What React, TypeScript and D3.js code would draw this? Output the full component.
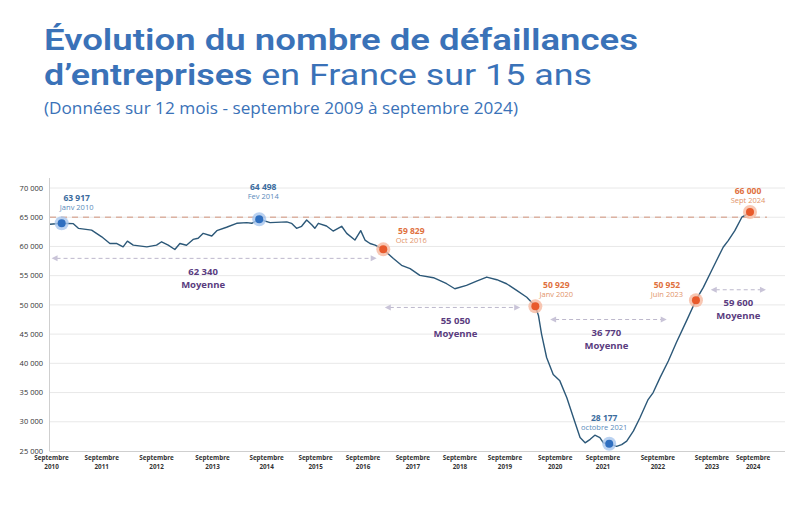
import React from "react";
import * as d3 from "d3";

// ---- data (months since September 2009, number of business failures over 12 months)
const months = [0, 3, 6, 7.3, 10.7, 13.3, 15.4, 17.2, 18.8, 19.9, 21.4, 24.9, 27.4, 28.7, 30.4, 32.1, 33.4, 35.1, 36.8, 38.1, 39.4, 41.6, 42.9, 45.4, 48, 50.6, 51.9, 53.8, 56.6, 60.9, 62.1, 63.4, 64.7, 66, 67.3, 68.1, 69, 71.1, 72.8, 75, 76.3, 78.4, 79.9, 81, 82.3, 83.6, 85.7, 88.3, 90.4, 92.6, 95.1, 98.6, 102, 104.1, 107.1, 109.7, 112.3, 114.9, 117.4, 120, 122.6, 124.8, 125.6, 126.4, 127.7, 129.4, 131.1, 132.9, 134.6, 136.3, 137.6, 138.9, 140.1, 141.4, 142.3, 143.8, 145.7, 147, 148.3, 150, 151.7, 153.8, 155.1, 156.9, 159, 161.1, 163.7, 166.1, 168, 170.1, 171.4, 173.1, 174.4, 176.1, 177.9, 178.7, 180];
const failures = [63800, 63960, 63900, 63100, 62800, 61650, 60500, 60500, 59930, 60900, 60220, 59930, 60220, 60800, 60220, 59480, 60500, 60200, 61200, 61400, 62240, 61780, 62700, 63280, 63960, 64080, 63960, 64650, 64080, 64200, 63960, 63100, 63450, 64530, 63700, 63100, 63960, 63500, 62640, 63450, 62240, 61090, 62700, 61090, 60500, 60220, 59500, 57930, 56770, 56200, 55050, 54650, 53620, 52760, 53330, 54070, 54760, 54310, 53620, 52470, 51310, 49750, 48200, 45000, 41000, 38100, 37000, 34100, 30700, 27300, 26400, 27000, 27700, 27300, 26400, 26250, 25800, 26100, 26700, 28400, 30700, 33800, 35000, 37600, 40400, 43600, 47300, 50800, 53000, 55850, 57600, 59870, 61000, 62700, 65000, 65300, 65900];

const yTicks = [25000, 30000, 35000, 40000, 45000, 50000, 55000, 60000, 65000, 70000];
const xTickMonths = [0.4, 13.3, 27.4, 41.8, 55.7, 68.3, 80.5, 93.3, 105.4, 117, 129.9, 142.2, 156.3, 170.2, 180.8];
const xTickYears = ["2010", "2011", "2012", "2013", "2014", "2015", "2016", "2017", "2018", "2019", "2020", "2021", "2022", "2023", "2024"];

const refValue = 65000;

const markerMonths = [3, 53.8, 85.7, 124.8, 143.8, 166.1, 180];
const markerValues = [63960, 64650, 59500, 49750, 26250, 50800, 65900];
const markerKinds = ["blue", "blue", "orange", "orange", "blue", "orange", "orange"];
const calloutValues = ["63 917", "64 498", "59 829", "50 929", "28 177", "50 952", "66 000"];
const calloutDates = ["Janv 2010", "Fev 2014", "Oct 2016", "Janv 2020", "octobre 2021", "Juin 2023", "Sept 2024"];

const avgLabels = ["62 340", "55 050", "36 770", "59 600"];
const avgStart = [0.4, 86.1, 128.6, 169.9];
const avgEnd = [84, 120.9, 158.6, 184.1];
const avgLevel = [57960, 49560, 47500, 52590];

// ---- layout / style
const calloutOffsets = [[15, -25], [4, -32], [28, -18], [21, -21], [-5, -26], [-29, -15], [-2, -21]];
const avgTextDx = [-11, 3, -2, 0];
const colors = {
  blue: { fill: "#2f6fc0", halo: "#a9c7ee", value: "#3b6c9e", date: "#5b8bbb" },
  orange: { fill: "#e85a2c", halo: "#f6b9a0", value: "#e0703e", date: "#e2946a" },
};

export default function App() {
  const W = 800, H = 513;
  const x = d3.scaleLinear().domain([0, 180]).range([50, 750]);
  const y = d3.scaleLinear().domain([25000, 70000]).range([451, 188]);
  const line = d3.line<number>().x((_, i) => x(months[i])).y((d) => y(d)).curve(d3.curveLinear);
  const font = "'Open Sans', 'DejaVu Sans', sans-serif";
  const titleFont = "Roboto, 'Open Sans', sans-serif";
  const titleBlue = "#3a72b8";

  const arrowHead = (px: number, py: number, dir: number) => {
    const s = 6;
    return `M${px},${py} L${px - dir * s},${py - 3} L${px - dir * s},${py + 3} Z`;
  };

  return (
    <svg width={W} height={H} style={{ position: "absolute", left: 0, top: 0, background: "#fff" }} fontFamily={font}>
      <rect width={W} height={H} fill="#fff" />
      {/* Title */}
      <text x={44} y={50} fontFamily={titleFont} fontSize={29} fontWeight={600} fill={titleBlue} textLength={594} lengthAdjust="spacingAndGlyphs">
        Évolution du nombre de défaillances
      </text>
      <text x={44} y={85} fontFamily={titleFont} fontSize={29} fill={titleBlue} textLength={548} lengthAdjust="spacingAndGlyphs">
        <tspan fontWeight={600}>d’entreprises</tspan>
        <tspan fontWeight={400}> en France sur 15 ans</tspan>
      </text>
      <text x={44} y={114} fontSize={17} fill={titleBlue} textLength={474} lengthAdjust="spacingAndGlyphs">
        (Données sur 12 mois - septembre 2009 à septembre 2024)
      </text>

      {/* gridlines */}
      {yTicks.map((t) => (
        <g key={t}>
          {t > 25000 && <line x1={50} x2={785} y1={y(t)} y2={y(t)} stroke="#e8e8e8" strokeWidth={1} />}
          <text x={43} y={y(t)} dy="0.35em" textAnchor="end" fontSize={7.5} fill="#333">
            {d3.format(",")(t).replace(",", " ")}
          </text>
        </g>
      ))}
      {/* axes */}
      <line x1={49.5} x2={49.5} y1={178} y2={y(25000)} stroke="#cfcfcf" />
      <line x1={49.5} x2={785} y1={y(25000) + 0.5} y2={y(25000) + 0.5} stroke="#cfcfcf" />
      {xTickMonths.map((m, i) => (
        <g key={i} transform={`translate(${x(m)},0)`}>
          <text y={460} textAnchor="middle" fontSize={6.3} fontWeight={700} fill="#333">Septembre</text>
          <text y={469} textAnchor="middle" fontSize={6.3} fontWeight={700} fill="#333">{xTickYears[i]}</text>
        </g>
      ))}

      {/* reference line 65 000 */}
      <line x1={50} x2={767} y1={y(refValue)} y2={y(refValue)} stroke="#dcb2a2" strokeWidth={1.4} strokeDasharray="6 5" />

      {/* average arrows */}
      {avgLabels.map((lab, i) => {
        const x1 = x(avgStart[i]), x2 = x(avgEnd[i]), yy = y(avgLevel[i]);
        const cx = (x1 + x2) / 2 + avgTextDx[i];
        return (
          <g key={lab}>
            <line x1={x1 + 5} x2={x2 - 5} y1={yy} y2={yy} stroke="#bdb8cc" strokeWidth={1} strokeDasharray="4 3" />
            <path d={arrowHead(x1, yy, -1)} fill="#c9c4d8" />
            <path d={arrowHead(x2, yy, 1)} fill="#c9c4d8" />
            <text x={cx} y={yy + 13} dy="0.35em" textAnchor="middle" fontSize={9.5} fontWeight={700} fill="#5a3c80">{lab}</text>
            <text x={cx} y={yy + 26} dy="0.35em" textAnchor="middle" fontSize={9.5} fontWeight={700} fill="#5a3c80">Moyenne</text>
          </g>
        );
      })}

      {/* line */}
      <path d={line(failures) || ""} fill="none" stroke="#2c5878" strokeWidth={1.4} strokeLinejoin="round" />

      {/* markers and callouts */}
      {markerMonths.map((m, i) => {
        const c = colors[markerKinds[i] as "blue" | "orange"];
        const mx = x(m), my = y(markerValues[i]);
        const [dx, dy] = calloutOffsets[i];
        return (
          <g key={i}>
            <circle cx={mx} cy={my} r={7} fill={c.halo} opacity={0.8} />
            <circle cx={mx} cy={my} r={4} fill={c.fill} />
            <text x={mx + dx} y={my + dy} dy="0.35em" textAnchor="middle" fontSize={8.5} fontWeight={700} fill={c.value}>{calloutValues[i]}</text>
            <text x={mx + dx} y={my + dy + 9.5} dy="0.35em" textAnchor="middle" fontSize={7.5} fill={c.date}>{calloutDates[i]}</text>
          </g>
        );
      })}
    </svg>
  );
}
